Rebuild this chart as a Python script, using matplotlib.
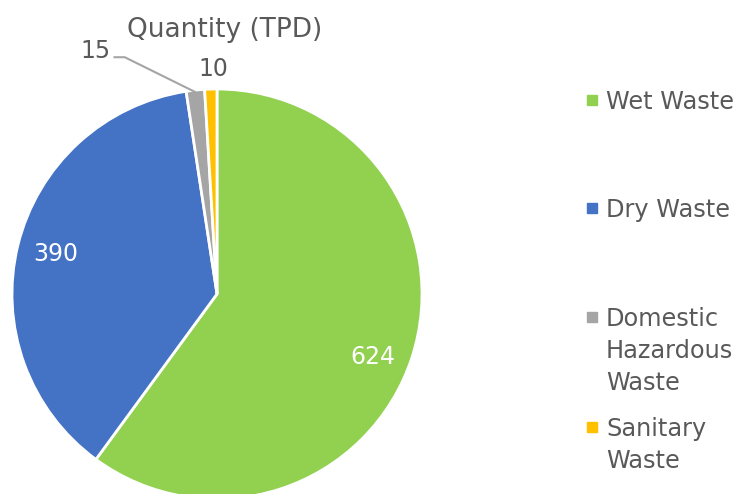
import numpy as np
import matplotlib
matplotlib.use('Agg')
import matplotlib.pyplot as plt

categories = ['Wet Waste', 'Dry Waste', 'Domestic\nHazardous\nWaste', 'Sanitary\nWaste']
values = [624, 390, 15, 10]
colors = ['#92D050', '#4472C4', '#A5A5A5', '#FFC000']
txt = '#595959'

plt.rcParams['font.family'] = ['DejaVu Sans']

fig = plt.figure(figsize=(7.4, 4.94), dpi=100, facecolor='white')
# axes sized so the pie radius is ~205 px, centre near (217, 294)
ax = fig.add_axes([12/740, -5/494, 410/740, 410/494])
wedges, _ = ax.pie(values, colors=colors, startangle=90, counterclock=False,
                   wedgeprops=dict(edgecolor='white', linewidth=2))
ax.set_xlim(-1, 1)
ax.set_ylim(-1, 1)
ax.set_aspect('auto')

# data labels
for i, w in enumerate(wedges):
    ang = np.deg2rad((w.theta1 + w.theta2) / 2)
    x, y = np.cos(ang), np.sin(ang)
    if i == 0:
        ax.text(0.8 * x, 0.8 * y - 0.06, str(values[i]), color='white', fontsize=17,
                ha='center', va='center')
    elif i == 1:
        ax.text(0.81 * x, 0.81 * y, str(values[i]), color='white', fontsize=17,
                ha='center', va='center')
    elif i == 2:
        # leader line: wedge edge -> elbow -> label
        ex, ey = -0.45, 1.155
        ax.plot([0.99 * x, ex, ex - 0.055], [0.99 * y, ey, ey], color='#A5A5A5',
                lw=1.5, clip_on=False, solid_capstyle='butt')
        ax.text(ex - 0.07, ey + 0.03, str(values[i]), color=txt, fontsize=17,
                ha='right', va='center')
    else:
        ax.text(-0.02, 1.1 * y, str(values[i]), color=txt, fontsize=17,
                ha='center', va='center')

fig.text(225/740, 1 - 37/494, 'Quantity (TPD)', color=txt, fontsize=19,
         ha='center', va='baseline')

# legend drawn by hand to keep Excel's uneven spacing
leg_y = [100, 208, 317, 427]
for lab, c, yy in zip(categories, colors, leg_y):
    fig.patches.append(plt.Rectangle((587/740, 1 - (yy + 5)/494), 10/740, 10/494,
                                     transform=fig.transFigure, color=c))
    for k, line in enumerate(lab.split('\n')):
        fig.text(606/740, 1 - (yy + 9 + 32 * k)/494, line, color=txt, fontsize=17.3,
                 ha='left', va='baseline')

fig.savefig('out.png', dpi=100)
